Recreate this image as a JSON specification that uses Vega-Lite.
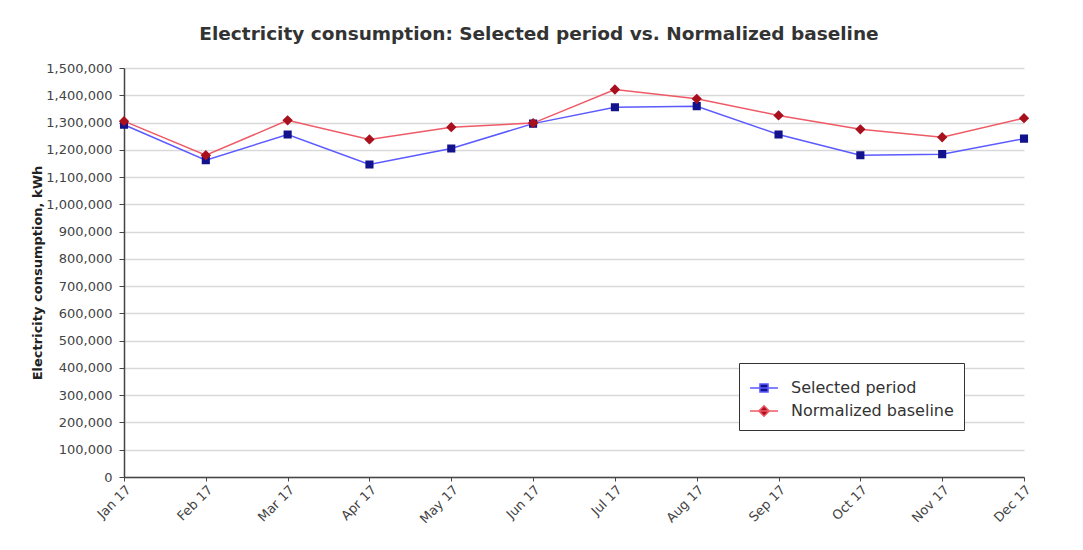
{
  "$schema": "https://vega.github.io/schema/vega-lite/v6.json",
  "width": 900,
  "height": 409,
  "autosize": {"type": "none"},
  "padding": {"left": 124, "top": 68, "right": 59, "bottom": 73},
  "background": "white",
  "config": {"view": {"stroke": null}, "font": "DejaVu Sans"},
  "title": {
    "text": "Electricity consumption: Selected period vs. Normalized baseline",
    "fontSize": 18.5,
    "fontWeight": "bold",
    "color": "#333333",
    "anchor": "middle",
    "dx": -35,
    "offset": 19
  },
  "data": {
    "values": [
      {"month": "Jan 17", "series": "Selected period", "kwh": 1292000},
      {"month": "Feb 17", "series": "Selected period", "kwh": 1162000},
      {"month": "Mar 17", "series": "Selected period", "kwh": 1256000},
      {"month": "Apr 17", "series": "Selected period", "kwh": 1146000},
      {"month": "May 17", "series": "Selected period", "kwh": 1205000},
      {"month": "Jun 17", "series": "Selected period", "kwh": 1296000},
      {"month": "Jul 17", "series": "Selected period", "kwh": 1356000},
      {"month": "Aug 17", "series": "Selected period", "kwh": 1360000},
      {"month": "Sep 17", "series": "Selected period", "kwh": 1256000},
      {"month": "Oct 17", "series": "Selected period", "kwh": 1180000},
      {"month": "Nov 17", "series": "Selected period", "kwh": 1184000},
      {"month": "Dec 17", "series": "Selected period", "kwh": 1241000},
      {"month": "Jan 17", "series": "Normalized baseline", "kwh": 1305000},
      {"month": "Feb 17", "series": "Normalized baseline", "kwh": 1180000},
      {"month": "Mar 17", "series": "Normalized baseline", "kwh": 1308000},
      {"month": "Apr 17", "series": "Normalized baseline", "kwh": 1238000},
      {"month": "May 17", "series": "Normalized baseline", "kwh": 1283000},
      {"month": "Jun 17", "series": "Normalized baseline", "kwh": 1298000},
      {"month": "Jul 17", "series": "Normalized baseline", "kwh": 1421000},
      {"month": "Aug 17", "series": "Normalized baseline", "kwh": 1387000},
      {"month": "Sep 17", "series": "Normalized baseline", "kwh": 1326000},
      {"month": "Oct 17", "series": "Normalized baseline", "kwh": 1275000},
      {"month": "Nov 17", "series": "Normalized baseline", "kwh": 1246000},
      {"month": "Dec 17", "series": "Normalized baseline", "kwh": 1316000}
    ]
  },
  "encoding": {
    "x": {
      "field": "month",
      "type": "ordinal",
      "sort": null,
      "scale": {"type": "point", "padding": 0},
      "axis": {
        "title": null,
        "labelAngle": -45,
        "labelAlign": "right",
        "labelBaseline": "top",
        "labelFontSize": 13,
        "labelColor": "#444444",
        "labelPadding": 2,
        "domainColor": "#444444",
        "domainWidth": 1.5,
        "tickColor": "#444444",
        "tickSize": 4,
        "grid": false
      }
    },
    "y": {
      "field": "kwh",
      "type": "quantitative",
      "scale": {"domain": [0, 1500000], "nice": false},
      "axis": {
        "title": "Electricity consumption, kWh",
        "titleFontSize": 13,
        "titleFontWeight": "bold",
        "titleColor": "#222222",
        "titlePadding": 1,
        "format": ",d",
        "values": [0, 100000, 200000, 300000, 400000, 500000, 600000, 700000, 800000, 900000, 1000000, 1100000, 1200000, 1300000, 1400000, 1500000],
        "labelFontSize": 13,
        "labelColor": "#444444",
        "labelPadding": 7,
        "grid": true,
        "gridColor": "#d9d9d9",
        "gridWidth": 1.5,
        "domainColor": "#444444",
        "domainWidth": 1.5,
        "tickColor": "#444444",
        "tickSize": 5
      }
    }
  },
  "layer": [
    {
      "mark": {"type": "line", "strokeWidth": 1.5},
      "encoding": {
        "stroke": {
          "field": "series",
          "type": "nominal",
          "scale": {"domain": ["Selected period", "Normalized baseline"], "range": ["#5a5aff", "#ee5a66"]}
        }
      }
    },
    {
      "mark": {"type": "point", "filled": true, "size": 784, "strokeWidth": 0, "opacity": 1},
      "encoding": {
        "shape": {
          "field": "series",
          "type": "nominal",
          "scale": {
            "domain": ["Selected period", "Normalized baseline"],
            "range": ["M-1,0H1M-0.29,-0.29H0.29V0.29H-0.29Z", "M-1,0H1M0,-0.37L0.37,0L0,0.37L-0.37,0Z"]
          },
          "legend": {
            "title": null,
            "orient": "none",
            "legendX": 615,
            "legendY": 295,
            "strokeColor": "#333333",
            "fillColor": "white",
            "padding": 10,
            "symbolSize": 784,
            "symbolStrokeWidth": 1.5,
            "labelFontSize": 16,
            "labelColor": "#333333",
            "labelOffset": 12,
            "rowPadding": 0,
            "labelLimit": 300
          }
        },
        "fill": {
          "field": "series",
          "type": "nominal",
          "scale": {"domain": ["Selected period", "Normalized baseline"], "range": ["#12128c", "#a8101e"]}
        },
        "stroke": {
          "field": "series",
          "type": "nominal"
        }
      }
    }
  ]
}
